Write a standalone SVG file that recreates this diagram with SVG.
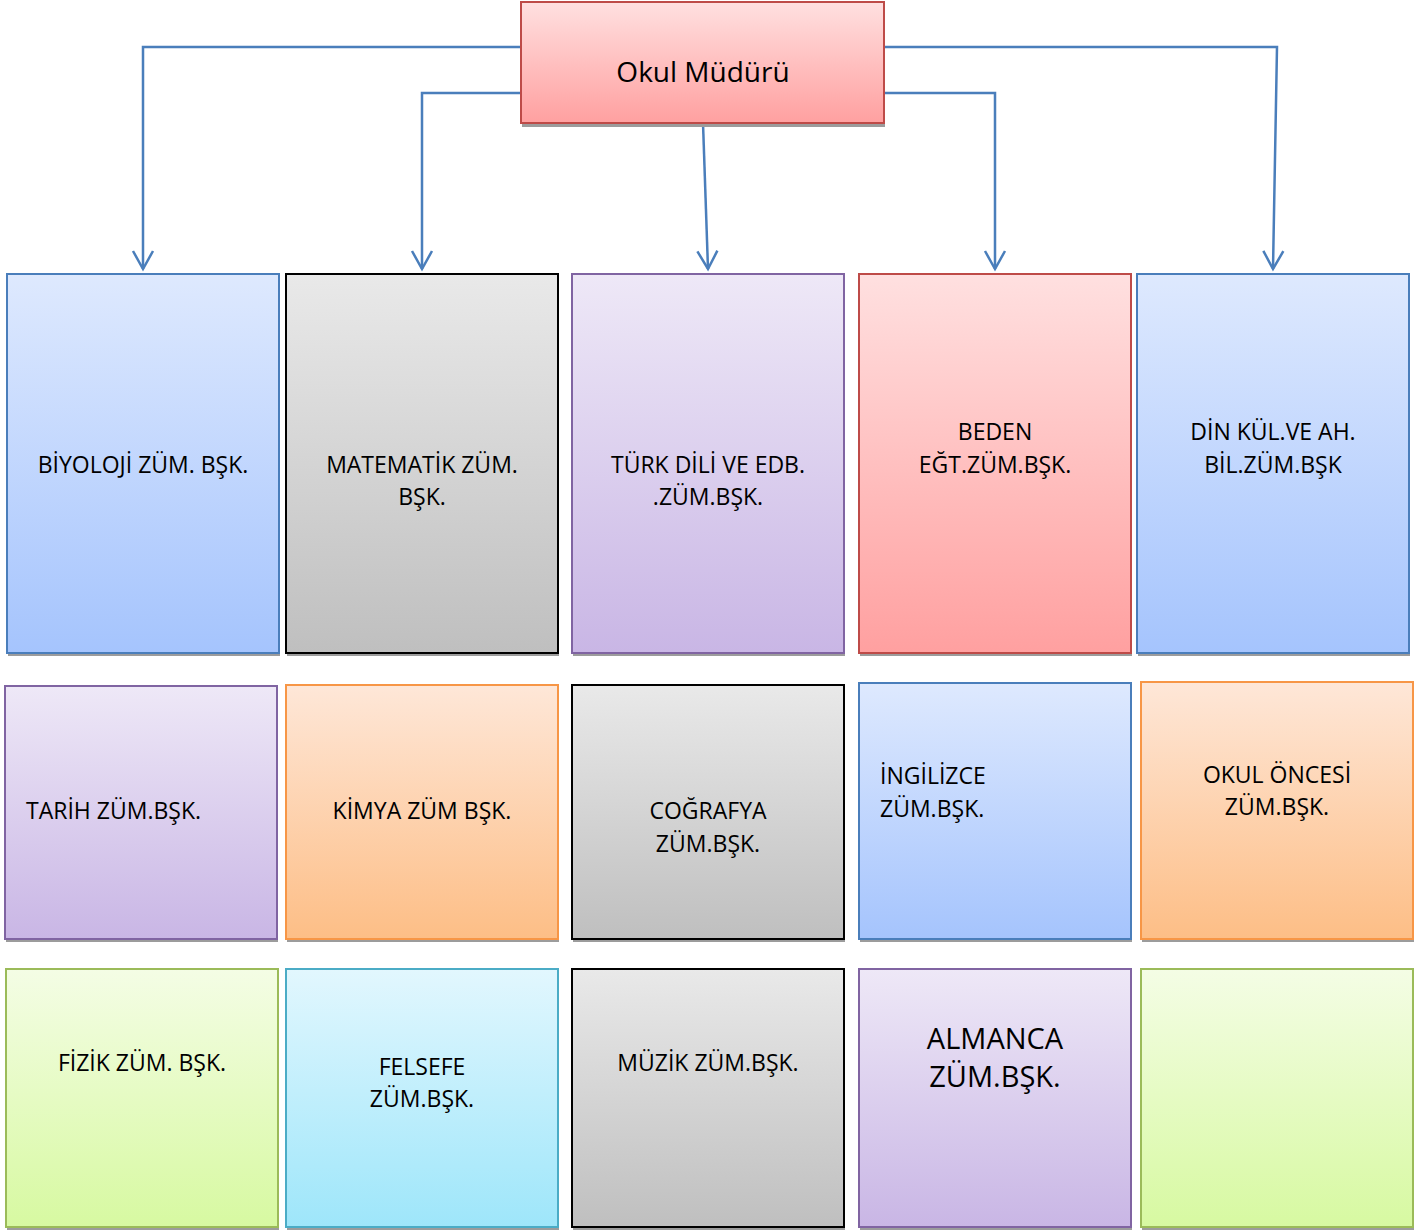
<svg xmlns="http://www.w3.org/2000/svg" width="1424" height="1230" viewBox="0 0 1424 1230">
<defs>
<linearGradient id="gBlue" x1="0" y1="0" x2="0" y2="1"><stop offset="0" stop-color="#dee9fe"/><stop offset="1" stop-color="#a5c4fd"/></linearGradient>
<linearGradient id="gGray" x1="0" y1="0" x2="0" y2="1"><stop offset="0" stop-color="#e9e9e9"/><stop offset="1" stop-color="#bfbfbf"/></linearGradient>
<linearGradient id="gPurple" x1="0" y1="0" x2="0" y2="1"><stop offset="0" stop-color="#eee8f7"/><stop offset="1" stop-color="#c9b6e5"/></linearGradient>
<linearGradient id="gRed" x1="0" y1="0" x2="0" y2="1"><stop offset="0" stop-color="#ffe0e0"/><stop offset="1" stop-color="#ffa0a0"/></linearGradient>
<linearGradient id="gOrange" x1="0" y1="0" x2="0" y2="1"><stop offset="0" stop-color="#fee7d8"/><stop offset="1" stop-color="#fdbe86"/></linearGradient>
<linearGradient id="gGreen" x1="0" y1="0" x2="0" y2="1"><stop offset="0" stop-color="#f4fde5"/><stop offset="1" stop-color="#d7f9a1"/></linearGradient>
<linearGradient id="gCyan" x1="0" y1="0" x2="0" y2="1"><stop offset="0" stop-color="#e2f7fe"/><stop offset="1" stop-color="#9ee6fa"/></linearGradient>
<marker id="arr" markerUnits="userSpaceOnUse" markerWidth="30" markerHeight="30" orient="auto" refX="0" refY="0" overflow="visible">
<path d="M-18,-10 L0,0 L-18,10" fill="none" stroke="#4a7ebb" stroke-width="2.5"/>
</marker>
</defs>
<style>
.sh{fill:#9c9c9c}
.box{stroke-width:2}
.blue{fill:url(#gBlue);stroke:#4a7ebb}
.gray{fill:url(#gGray);stroke:#000}
.purple{fill:url(#gPurple);stroke:#8064a2}
.red{fill:url(#gRed);stroke:#be4b48}
.orange{fill:url(#gOrange);stroke:#f79646}
.green{fill:url(#gGreen);stroke:#9bbb59}
.cyan{fill:url(#gCyan);stroke:#4bacc6}
text{font-family:"Open Sans","Liberation Sans",sans-serif;font-size:23px;fill:#000;text-anchor:middle}
.l{text-anchor:start}
.big{font-size:29px}
.title{font-size:28px}
.conn{fill:none;stroke:#4a7ebb;stroke-width:2.5}
</style>
<rect width="1424" height="1230" fill="#fff"/>

<g id="connectors">
<polyline class="conn" points="521,47 143,47 143,269" marker-end="url(#arr)"/>
<polyline class="conn" points="521,93 422,93 422,269" marker-end="url(#arr)"/>
<polyline class="conn" points="703,123 708,269" marker-end="url(#arr)"/>
<polyline class="conn" points="884,93 995,93 995,269" marker-end="url(#arr)"/>
<polyline class="conn" points="884,47 1277,47 1273,269" marker-end="url(#arr)"/>
</g>

<g id="okul-muduru">
<rect class="sh" x="522" y="5" width="363" height="122"/>
<rect class="box red" x="521" y="2" width="363" height="121"/>
<text class="title" x="703" y="82">Okul Müdürü</text>
</g>

<g id="biyoloji">
<rect class="sh" x="8" y="277" width="272" height="379"/>
<rect class="box blue" x="7" y="274" width="272" height="379"/>
<text x="143" y="473">BİYOLOJİ ZÜM. BŞK.</text>
</g>
<g id="matematik">
<rect class="sh" x="287" y="277" width="272" height="379"/>
<rect class="box gray" x="286" y="274" width="272" height="379"/>
<text x="422" y="473">MATEMATİK ZÜM.</text>
<text x="422" y="505">BŞK.</text>
</g>
<g id="turk-dili">
<rect class="sh" x="573" y="277" width="272" height="379"/>
<rect class="box purple" x="572" y="274" width="272" height="379"/>
<text x="708" y="473">TÜRK DİLİ VE EDB.</text>
<text x="708" y="505">.ZÜM.BŞK.</text>
</g>
<g id="beden">
<rect class="sh" x="860" y="277" width="272" height="379"/>
<rect class="box red" x="859" y="274" width="272" height="379"/>
<text x="995" y="440">BEDEN</text>
<text x="995" y="473">EĞT.ZÜM.BŞK.</text>
</g>
<g id="din-kultur">
<rect class="sh" x="1138" y="277" width="272" height="379"/>
<rect class="box blue" x="1137" y="274" width="272" height="379"/>
<text x="1273" y="440">DİN KÜL.VE AH.</text>
<text x="1273" y="473">BİL.ZÜM.BŞK</text>
</g>

<g id="tarih">
<rect class="sh" x="6" y="689" width="272" height="253"/>
<rect class="box purple" x="5" y="686" width="272" height="253"/>
<text class="l" x="26" y="819">TARİH ZÜM.BŞK.</text>
</g>
<g id="kimya">
<rect class="sh" x="287" y="688" width="272" height="254"/>
<rect class="box orange" x="286" y="685" width="272" height="254"/>
<text x="422" y="819">KİMYA ZÜM BŞK.</text>
</g>
<g id="cografya">
<rect class="sh" x="573" y="688" width="272" height="254"/>
<rect class="box gray" x="572" y="685" width="272" height="254"/>
<text x="708" y="819">COĞRAFYA</text>
<text x="708" y="852">ZÜM.BŞK.</text>
</g>
<g id="ingilizce">
<rect class="sh" x="860" y="686" width="272" height="256"/>
<rect class="box blue" x="859" y="683" width="272" height="256"/>
<text class="l" x="880" y="784">İNGİLİZCE</text>
<text class="l" x="880" y="817">ZÜM.BŞK.</text>
</g>
<g id="okul-oncesi">
<rect class="sh" x="1142" y="685" width="272" height="257"/>
<rect class="box orange" x="1141" y="682" width="272" height="257"/>
<text x="1277" y="783">OKUL ÖNCESİ</text>
<text x="1277" y="815">ZÜM.BŞK.</text>
</g>

<g id="fizik">
<rect class="sh" x="7" y="972" width="272" height="258"/>
<rect class="box green" x="6" y="969" width="272" height="258"/>
<text x="142" y="1071">FİZİK ZÜM. BŞK.</text>
</g>
<g id="felsefe">
<rect class="sh" x="287" y="972" width="272" height="258"/>
<rect class="box cyan" x="286" y="969" width="272" height="258"/>
<text x="422" y="1075">FELSEFE</text>
<text x="422" y="1107">ZÜM.BŞK.</text>
</g>
<g id="muzik">
<rect class="sh" x="573" y="972" width="272" height="258"/>
<rect class="box gray" x="572" y="969" width="272" height="258"/>
<text x="708" y="1071">MÜZİK ZÜM.BŞK.</text>
</g>
<g id="almanca">
<rect class="sh" x="860" y="972" width="272" height="258"/>
<rect class="box purple" x="859" y="969" width="272" height="258"/>
<text class="big" x="995" y="1049">ALMANCA</text>
<text class="big" x="995" y="1087">ZÜM.BŞK.</text>
</g>
<g id="bos">
<rect class="sh" x="1142" y="972" width="272" height="258"/>
<rect class="box green" x="1141" y="969" width="272" height="258"/>
</g>
</svg>
